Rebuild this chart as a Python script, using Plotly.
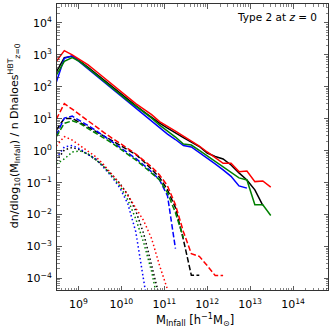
import plotly.graph_objects as go

# log10 of infall mass bin centres [h^-1 Msun]
log_mass = [8.485, 8.67, 8.855, 9.04, 9.225, 9.41, 9.595, 9.78, 9.965, 10.15,
            10.335, 10.52, 10.705, 10.89, 11.075, 11.26, 11.445, 11.63, 11.815, 12.0,
            12.185, 12.37, 12.555, 12.74, 12.925, 13.11, 13.295, 13.48]

# log10 of dn/dlog10(M) / n
red_solid = [2.799, 3.133, 3.002, 2.846, 2.690, 2.487, 2.284, 2.082, 1.879, 1.676,
             1.473, 1.302, 1.130, 0.912, 0.772, 0.616, 0.460, 0.304, 0.148, -0.039,
             -0.211, -0.392, -0.392, -0.654, -0.632, -0.966, -0.944, -1.140]
black_solid = [2.466, 2.915, 2.955, 2.799, 2.612, 2.409, 2.206, 2.004, 1.801, 1.598,
               1.411, 1.224, 1.037, 0.865, 0.709, 0.553, 0.413, 0.272, 0.132, -0.071,
               -0.180, -0.258, -0.445, -0.694, -0.913, -1.225, -1.708]
green_solid = [2.363, 2.799, 2.915, 2.783, 2.581, 2.378, 2.175, 1.973, 1.770, 1.567,
               1.396, 1.208, 1.021, 0.803, 0.616, 0.429, 0.210, 0.179, 0.008, -0.164,
               -0.335, -0.507, -0.663, -0.850, -0.913, -1.692, -1.692, -2.026]
blue_solid = [2.154, 2.893, 2.971, 2.768, 2.550, 2.347, 2.144, 1.926, 1.723, 1.520,
              1.333, 1.130, 0.928, 0.709, 0.522, 0.351, 0.164, 0.117, -0.055, -0.226,
              -0.413, -0.601, -0.803, -1.100, -1.171]

red_dashed = [0.990, 1.473, 1.302, 1.115, 0.928, 0.741, 0.569, 0.397, 0.242, 0.070,
              -0.102, -0.304, -0.507, -0.757, -1.100, -1.692, -2.535, -3.221, -3.305, -3.595,
              -3.907, -3.907]
black_dashed = [0.647, 1.012, 1.012, 0.881, 0.741, 0.600, 0.460, 0.319, 0.179, 0.039,
                -0.117, -0.335, -0.569, -0.835, -1.225, -1.786, -2.784, -3.898, -3.898]
blue_dashed = [0.491, 1.021, 1.083, 0.943, 0.787, 0.631, 0.460, 0.288, 0.117, -0.055,
               -0.242, -0.445, -0.663, -0.913, -1.412, -3.065]
green_dashed = [0.438, 0.856, 0.937, 0.850, 0.694, 0.553, 0.397, 0.242, 0.070, -0.102,
                -0.289, -0.491, -0.694, -0.913, -1.318, -1.942, -2.722]

red_dotted = [0.148, 0.444, 0.335, 0.164, -0.008, -0.195, -0.445, -0.725, -1.037, -1.396,
              -1.786, -2.191, -2.753, -3.595, -4.344, -5.217]
blue_dotted = [-0.226, 0.117, 0.164, 0.054, -0.117, -0.258, -0.538, -0.819, -1.162, -1.661,
               -2.535, -3.969, -5.591]
green_dotted = [-0.413, -0.258, -0.039, -0.008, -0.102, -0.289, -0.507, -0.788, -1.100, -1.536,
                -2.129, -2.878, -3.782, -4.968]
black_dotted = [-0.320, 0.023, 0.101, 0.023, -0.117, -0.289, -0.491, -0.741, -1.022, -1.380,
                -1.880, -2.597, -3.533, -4.531, -5.591]

x_tick_exps = [9, 10, 11, 12, 13, 14]
y_tick_exps = [-4, -3, -2, -1, 0, 1, 2, 3, 4]

DASH = "5.5px,2.4px"
DOT = "1.5px,2.5px"
LW = 1.5

series = [
    (black_solid, "black", "solid"), (blue_solid, "#0000ff", "solid"),
    (green_solid, "#008000", "solid"), (red_solid, "#ff0000", "solid"),
    (black_dashed, "black", DASH), (blue_dashed, "#0000ff", DASH),
    (green_dashed, "#008000", DASH), (red_dashed, "#ff0000", DASH),
    (black_dotted, "black", DOT), (blue_dotted, "#0000ff", DOT),
    (green_dotted, "#008000", DOT), (red_dotted, "#ff0000", DOT),
]

fig = go.Figure()
for vals, col, dash in series:
    n = len(vals)
    fig.add_trace(go.Scatter(
        x=[10 ** v for v in log_mass[:n]],
        y=[10 ** v for v in vals],
        mode="lines",
        line=dict(color=col, width=LW, dash=dash),
        showlegend=False, hoverinfo="skip", cliponaxis=True,
    ))

def sup(e):
    s = str(e).replace("-", "\u2212")
    return "10<sup>%s</sup>" % s

x_minor = [m * 10 ** e for e in range(8, 15) for m in range(2, 10)]
y_minor = [m * 10 ** e for e in range(-5, 5) for m in range(2, 10)]

FONT = "DejaVu Sans"
axis_common = dict(
    type="log", showgrid=False, zeroline=False, automargin=False,
    showline=True, linecolor="#333", linewidth=1, mirror="allticks",
    ticks="inside", ticklen=4.5, tickwidth=0.8, tickcolor="#333",
    tickfont=dict(family=FONT, size=11, color="black"),
)

fig.update_xaxes(
    **axis_common,
    range=[8.5, 14.814],
    tickvals=[10 ** e for e in x_tick_exps],
    ticktext=[sup(e) for e in x_tick_exps],
    ticklabelstandoff=4,
    minor=dict(tickvals=x_minor, ticks="inside", ticklen=2.5, tickwidth=0.6, tickcolor="#333"),
)
fig.update_yaxes(
    **axis_common,
    range=[-4.359, 4.593],
    tickvals=[10 ** e for e in y_tick_exps],
    ticktext=[sup(e) for e in y_tick_exps],
    ticklabelstandoff=2,
    minor=dict(tickvals=y_minor, ticks="inside", ticklen=2.5, tickwidth=0.6, tickcolor="#333"),
)

fig.update_layout(
    width=330, height=330,
    margin=dict(l=57, r=1.5, t=3.5, b=39.5, autoexpand=False),
    paper_bgcolor="white", plot_bgcolor="white",
    font=dict(family=FONT, size=11, color="black"),
    annotations=[
        dict(text="Type 2 at <i>z</i> = 0", xref="paper", yref="paper",
             x=0.965, y=0.955, xanchor="right", yanchor="middle",
             showarrow=False, font=dict(family=FONT, size=10.5, color="black")),
        dict(text="M<sub>Infall</sub> [h<sup>\u22121</sup>M<sub>\u2299</sub>]",
             xref="paper", yref="paper", x=0.51, y=-0.105,
             xanchor="center", yanchor="middle", showarrow=False,
             font=dict(family=FONT, size=11.5, color="black")),
        dict(text="dn/dlog<sub>10</sub>(M<sub>Infall</sub>) / n Dhaloes<sup>HBT</sup><sub>z=0</sub>",
             xref="paper", yref="paper", x=-0.16, y=0.54, textangle=-90,
             xanchor="center", yanchor="middle", showarrow=False,
             font=dict(family=FONT, size=11, color="black")),
    ],
)

fig.write_html("out.html",
               config={"displayModeBar": False, "staticPlot": True},
               post_script="document.body.style.margin='0';document.body.style.overflow='hidden';")
